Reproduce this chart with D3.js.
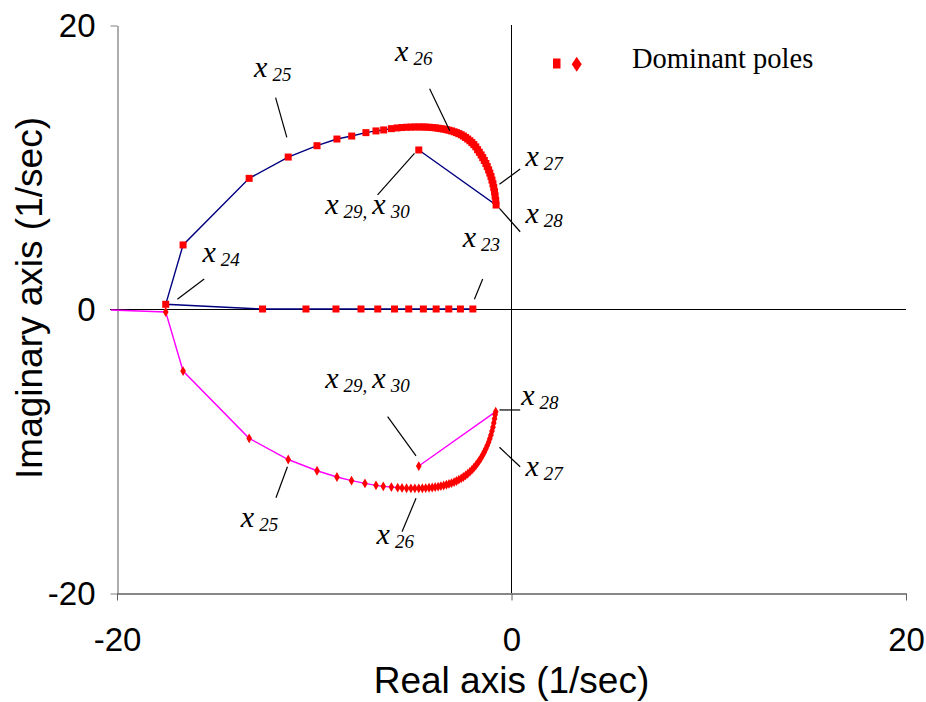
<!DOCTYPE html>
<html>
<head>
<meta charset="utf-8">
<script src="https://cdn.jsdelivr.net/npm/d3@7"></script>
<style>
  html, body { margin: 0; padding: 0; background: #fff; }
  svg { display: block; }
</style>
</head>
<body>
<svg id="chart" width="926" height="702"></svg>
<script>
// Axis ticks
const xTicks = [-20, 0, 20];
const yTicks = [-20, 0, 20];

// Upper branch (real part, imaginary part): real-axis start, loop, then the final pair
const upperRe = [-1.96, -2.59, -3.18, -3.82, -4.47, -5.21, -5.93, -6.78, -7.63, -8.90, -10.42, -12.62,
  -17.53, -16.65, -13.30, -11.32, -9.86, -8.85, -8.10, -7.38, -6.87, -6.48, -6.09, -5.80,
  -5.55, -5.32, -5.10, -4.90, -4.70, -4.52, -4.35, -4.18, -4.02, -3.87, -3.72, -3.58, -3.44, -3.30,
  -3.17, -3.04, -2.91, -2.79, -2.67, -2.55, -2.44, -2.33, -2.22, -2.11, -2.01, -1.91, -1.81, -1.72,
  -1.63, -1.54, -1.46, -1.38, -1.30, -1.23, -1.16, -1.10, -1.04, -0.99, -0.94, -0.90, -0.86, -0.83,
  -0.80, -0.78, -4.70];
const upperIm = [0, 0, 0, 0, 0, 0, 0, 0, 0, 0, 0, 0,
  0.33, 4.51, 9.20, 10.70, 11.50, 11.97, 12.18, 12.42, 12.54, 12.61, 12.70, 12.75,
  12.78, 12.80, 12.81, 12.82, 12.82, 12.82, 12.81, 12.80, 12.78, 12.76, 12.73, 12.70, 12.67, 12.63,
  12.59, 12.54, 12.48, 12.42, 12.35, 12.27, 12.18, 12.08, 11.97, 11.85, 11.72, 11.58, 11.42, 11.22,
  11.04, 10.85, 10.66, 10.46, 10.25, 10.03, 9.80, 9.57, 9.33, 9.08, 8.82, 8.55, 8.26, 7.96,
  7.65, 7.32, 11.20];

// Lower branch
const lowerRe = [-20.30, -17.53, -16.65, -13.30, -11.32, -9.86, -8.85, -8.11, -7.43, -6.87, -6.50, -6.09, -5.77,
  -5.55, -5.32, -5.10, -4.90, -4.70, -4.52, -4.35, -4.18, -4.02, -3.87, -3.72, -3.58, -3.44, -3.30,
  -3.17, -3.04, -2.91, -2.79, -2.67, -2.55, -2.44, -2.33, -2.22, -2.11, -2.01, -1.91, -1.81, -1.72,
  -1.63, -1.54, -1.46, -1.38, -1.30, -1.23, -1.16, -1.10, -1.04, -0.99, -0.94, -0.90, -0.86, -0.83,
  -0.80, -4.70];
const lowerIm = [-0.07, -0.21, -4.37, -9.11, -10.60, -11.39, -11.83, -12.09, -12.28, -12.42, -12.49, -12.54, -12.58,
  -12.60, -12.62, -12.63, -12.63, -12.63, -12.62, -12.61, -12.59, -12.57, -12.54, -12.51, -12.47, -12.43, -12.38,
  -12.32, -12.26, -12.19, -12.11, -12.02, -11.93, -11.83, -11.72, -11.60, -11.47, -11.33, -11.18, -11.02, -10.85,
  -10.67, -10.48, -10.28, -10.07, -9.85, -9.62, -9.38, -9.13, -8.87, -8.60, -8.32, -8.03, -7.73, -7.45,
  -7.23, -11.06];

// State labels: subscript, text anchor (re, im), leader line from/to (re, im)
const labelSubs = ["25", "26", "27", "28", "29", "23", "24", "29", "28", "27", "25", "26"];
const labelRe = [-13.05, -5.90, 0.71, 0.71, -9.44, -2.47, -15.67, -9.44, 0.49, 0.71, -13.72, -6.84];
const labelIm = [16.34, 17.49, 10.07, 6.04, 6.69, 4.35, 3.33, -5.58, -6.76, -11.76, -15.37, -16.55];
const leaderRe1 = [-11.96, -4.15, 0.44, -0.61, -6.79, -1.46, -15.58, -6.28, -0.61, -0.61, -11.36, -4.84];
const leaderIm1 = [14.88, 15.51, 9.86, 7.09, 8.03, 2.11, 2.11, -7.58, -7.11, -9.74, -11.11, -13.33];
const leaderRe2 = [-11.39, -3.13, -0.61, 0.44, -4.92, -1.88, -16.94, -4.84, 0.44, 0.44, -11.94, -5.55];
const leaderIm2 = [12.09, 12.56, 8.78, 5.44, 10.96, 0.68, 0.68, -10.35, -7.11, -11.11, -13.29, -15.68];

const legendLabel = "Dominant poles";
const xTitle = "Real axis (1/sec)";
const yTitle = "Imaginary axis (1/sec)";

const svg = d3.select("#chart");
const plotL = 117, plotR = 906, plotT = 25, plotB = 593;
const x = d3.scaleLinear().domain([-20, 20]).range([plotL, plotR]);
const y = d3.scaleLinear().domain([-20, 20]).range([plotB, plotT]);

const red = "#ff0000";
const axisFont = "'Liberation Sans', Arial, sans-serif";
const serif = "'Liberation Serif', 'Times New Roman', serif";

svg.append("defs").append("clipPath").attr("id", "plot")
  .append("rect").attr("x", plotL).attr("y", plotT).attr("width", plotR - plotL).attr("height", plotB - plotT);

const signed = d => d < 0 ? "-" + Math.abs(d) : String(d);

// Left axis
const yAxis = d3.axisLeft(y).tickValues(yTicks).tickSize(7).tickSizeOuter(0);
const gy = svg.append("g").attr("transform", `translate(${plotL + 0.5},0.5)`).call(yAxis);
gy.select(".domain").attr("stroke", "#808080").attr("stroke-width", 1.3);
gy.selectAll(".tick line").attr("stroke", "#808080").attr("stroke-width", 1);
gy.selectAll(".tick text").attr("x", -22).attr("font-family", axisFont).attr("font-size", 33).attr("fill", "#000")
  .text(signed);

// Bottom axis
const xAxis = d3.axisBottom(x).tickValues(xTicks).tickSize(7).tickSizeOuter(0);
const gx = svg.append("g").attr("transform", `translate(0,${plotB + 0.5})`).call(xAxis);
gx.select(".domain").attr("stroke", "#606060").attr("stroke-width", 1.3);
gx.selectAll(".tick line").attr("stroke", "#606060").attr("stroke-width", 1);
gx.selectAll(".tick text").attr("y", 34).attr("font-family", axisFont).attr("font-size", 33).attr("fill", "#000")
  .text(signed);

// Zero lines
svg.append("line").attr("x1", x(-20) - 7).attr("x2", x(20)).attr("y1", y(0) + 0.5).attr("y2", y(0) + 0.5)
  .attr("stroke", "#000").attr("stroke-width", 1);
svg.append("line").attr("x1", x(0)).attr("x2", x(0)).attr("y1", y(20)).attr("y2", y(-20))
  .attr("stroke", "#000").attr("stroke-width", 1);

// Axis titles
svg.append("text").attr("x", (plotL + plotR) / 2).attr("y", 693).attr("text-anchor", "middle")
  .attr("font-family", axisFont).attr("font-size", 37).text(xTitle);
svg.append("text").attr("transform", `translate(42,${y(0) - 11}) rotate(-90)`).attr("text-anchor", "middle")
  .attr("font-family", axisFont).attr("font-size", 37).text(yTitle);

// Series
const upper = upperRe.map((r, i) => [r, upperIm[i]]);
const lower = lowerRe.map((r, i) => [r, lowerIm[i]]);
const line = d3.line().x(d => x(d[0])).y(d => y(d[1]));

svg.append("path").datum(lower).attr("d", line).attr("fill", "none").attr("stroke", "#ff00ff").attr("stroke-width", 1.4);
svg.append("path").datum(upper).attr("d", line).attr("fill", "none").attr("stroke", "#000080").attr("stroke-width", 1.4);

const markers = svg.append("g").attr("clip-path", "url(#plot)");
markers.selectAll("rect.sq").data(upper).join("rect").attr("class", "sq")
  .attr("x", d => x(d[0]) - 3.5).attr("y", d => y(d[1]) - 3.5).attr("width", 7).attr("height", 7).attr("fill", red);
const diamond = d3.symbol().type(d3.symbolDiamond).size(28);
markers.selectAll("path.dm").data(lower).join("path").attr("class", "dm")
  .attr("transform", d => `translate(${x(d[0])},${y(d[1])})`).attr("d", diamond).attr("fill", red);

// Leader lines
const ann = svg.append("g");
labelSubs.forEach((s, i) => {
  ann.append("line")
    .attr("x1", x(leaderRe1[i])).attr("y1", y(leaderIm1[i]))
    .attr("x2", x(leaderRe2[i])).attr("y2", y(leaderIm2[i]))
    .attr("stroke", "#000").attr("stroke-width", 1.2);
});

// State labels: italic x with subscript index
labelSubs.forEach((s, i) => {
  const t = ann.append("text").attr("x", x(labelRe[i])).attr("y", y(labelIm[i]))
    .attr("font-family", serif).attr("font-style", "italic").attr("fill", "#000");
  t.append("tspan").attr("font-size", 30).text("x");
  t.append("tspan").attr("font-size", 19).attr("dx", 5).attr("dy", 4).text(s);
  if (s === "29") {
    t.append("tspan").attr("font-size", 19).text(",");
    t.append("tspan").attr("font-size", 30).attr("dx", 5).attr("dy", -4).text("x");
    t.append("tspan").attr("font-size", 19).attr("dx", 5).attr("dy", 4).text("30");
  }
});

// Legend
const lg = svg.append("g");
lg.append("rect").attr("x", 553).attr("y", 58.5).attr("width", 7.5).attr("height", 10).attr("fill", red);
lg.append("path").attr("d", "M576.7,56.7 L581.7,64.2 L576.7,71.7 L571.7,64.2 Z").attr("fill", red);
lg.append("text").attr("x", 632).attr("y", 68).attr("font-family", serif).attr("font-size", 28.5).text(legendLabel);
</script>
</body>
</html>
